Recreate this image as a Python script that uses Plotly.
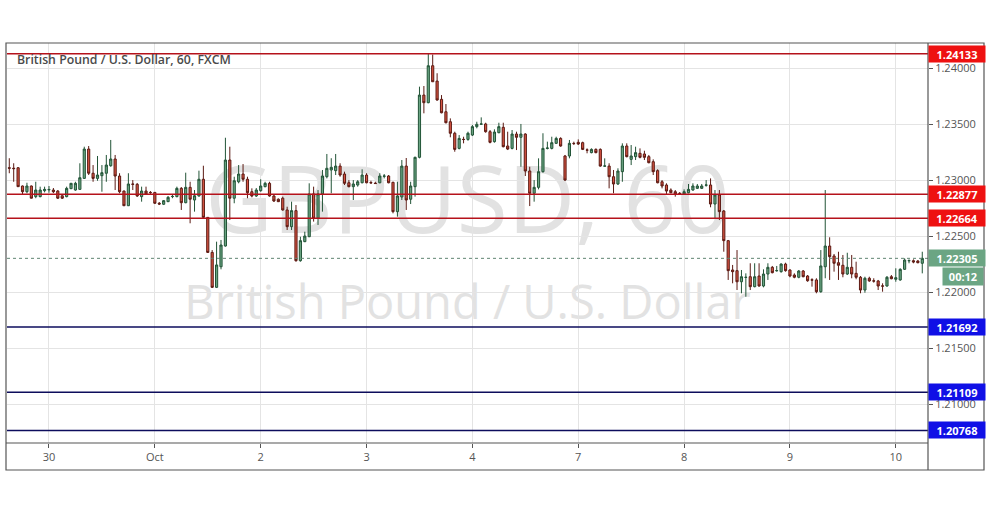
import plotly.graph_objects as go

# ---------------- data (hourly GBP/USD candles) ----------------
idx = list(range(208))

opens = [
    1.23114, 1.23110, 1.23114, 1.22951, 1.22900, 1.22951, 1.22856, 1.22856, 1.22909, 1.22916,
    1.22915, 1.22906, 1.22864, 1.22856, 1.22927, 1.22915, 1.22921, 1.23019, 1.23281, 1.23065,
    1.23019, 1.23043, 1.23065, 1.23132, 1.23192, 1.23040, 1.22906, 1.22775, 1.22969, 1.22966,
    1.22856, 1.22906, 1.22894, 1.22894, 1.22797, 1.22788, 1.22811, 1.22856, 1.22856, 1.22930,
    1.22802, 1.22939, 1.22826, 1.22862, 1.23011, 1.22671, 1.22358, 1.22046, 1.22230, 1.22415,
    1.23183, 1.22842, 1.22989, 1.23058, 1.23011, 1.22900, 1.22862, 1.22909, 1.22945, 1.22975,
    1.22862, 1.22833, 1.22842, 1.22737, 1.22588, 1.22731, 1.22284, 1.22454, 1.22498, 1.22880,
    1.22663, 1.22880, 1.23034, 1.23094, 1.23088, 1.23129, 1.23058, 1.22980, 1.22945, 1.22960,
    1.22980, 1.23049, 1.22982, 1.22976, 1.22980, 1.23038, 1.23040, 1.22984, 1.22722, 1.22853,
    1.23129, 1.22833, 1.22945, 1.23207, 1.23763, 1.23695, 1.24025, 1.23888, 1.23725, 1.23614,
    1.23525, 1.23422, 1.23287, 1.23368, 1.23367, 1.23406, 1.23481, 1.23503, 1.23505, 1.23436,
    1.23347, 1.23427, 1.23475, 1.23308, 1.23287, 1.23415, 1.23386, 1.23415, 1.23085, 1.22886,
    1.22939, 1.23079, 1.23287, 1.23287, 1.23332, 1.23376, 1.23219, 1.23219, 1.23332, 1.23341,
    1.23338, 1.23273, 1.23249, 1.23278, 1.23278, 1.23128, 1.23129, 1.23034, 1.22969, 1.23079,
    1.23308, 1.23189, 1.23213, 1.23243, 1.23237, 1.23213, 1.23168, 1.23088, 1.22989, 1.22960,
    1.22915, 1.22900, 1.22886, 1.22880, 1.22891, 1.22915, 1.22930, 1.22930, 1.22958, 1.22960,
    1.22790, 1.22871, 1.22728, 1.22463, 1.22201, 1.22195, 1.22096, 1.22134, 1.22141, 1.22052,
    1.22147, 1.22058, 1.22165, 1.22225, 1.22194, 1.22186, 1.22254, 1.22201, 1.22156, 1.22136,
    1.22192, 1.22147, 1.22113, 1.22112, 1.22007, 1.22230, 1.22415, 1.22326, 1.22266, 1.22243,
    1.22165, 1.22225, 1.22171, 1.22136, 1.22022, 1.22127, 1.22104, 1.22103, 1.22059, 1.22058,
    1.22141, 1.22118, 1.22112, 1.22207, 1.22283, 1.22284, 1.22281, 1.22261,
]

highs = [
    1.23199, 1.23154, 1.23120, 1.22955, 1.22980, 1.22955, 1.22989, 1.22945, 1.22945, 1.22951,
    1.22933, 1.22915, 1.22868, 1.22945, 1.22978, 1.22989, 1.23154, 1.23302, 1.23308, 1.23138,
    1.23219, 1.23138, 1.23228, 1.23362, 1.23228, 1.23065, 1.22910, 1.23065, 1.23004, 1.22978,
    1.22945, 1.22945, 1.22906, 1.22897, 1.22808, 1.22826, 1.22862, 1.22871, 1.22945, 1.22942,
    1.23070, 1.22989, 1.22915, 1.23088, 1.23132, 1.22674, 1.22379, 1.22454, 1.22469, 1.23382,
    1.23302, 1.23034, 1.23138, 1.23147, 1.23034, 1.22930, 1.22933, 1.23011, 1.22989, 1.22989,
    1.22871, 1.22840, 1.22856, 1.22766, 1.22811, 1.22781, 1.22498, 1.22543, 1.22975, 1.22945,
    1.22915, 1.23094, 1.23237, 1.23199, 1.23237, 1.23154, 1.23079, 1.23004, 1.23004, 1.23004,
    1.23100, 1.23065, 1.22998, 1.22989, 1.23065, 1.23058, 1.23049, 1.22989, 1.22989, 1.23183,
    1.23201, 1.22989, 1.23213, 1.23838, 1.23844, 1.24130, 1.24125, 1.23958, 1.23763, 1.23683,
    1.23555, 1.23436, 1.23406, 1.23391, 1.23436, 1.23496, 1.23525, 1.23564, 1.23516, 1.23451,
    1.23457, 1.23516, 1.23516, 1.23436, 1.23451, 1.23436, 1.23505, 1.23422, 1.23123, 1.23004,
    1.23198, 1.23422, 1.23347, 1.23391, 1.23391, 1.23386, 1.23228, 1.23362, 1.23347, 1.23367,
    1.23347, 1.23287, 1.23287, 1.23287, 1.23287, 1.23198, 1.23154, 1.23094, 1.23109, 1.23332,
    1.23332, 1.23317, 1.23302, 1.23287, 1.23266, 1.23228, 1.23189, 1.23100, 1.23004, 1.22975,
    1.22930, 1.22915, 1.22897, 1.22921, 1.22969, 1.22975, 1.22969, 1.22969, 1.23004, 1.23019,
    1.22915, 1.22915, 1.22737, 1.22469, 1.22246, 1.22379, 1.22201, 1.22171, 1.22261, 1.22261,
    1.22261, 1.22207, 1.22261, 1.22237, 1.22237, 1.22261, 1.22266, 1.22207, 1.22171, 1.22201,
    1.22201, 1.22156, 1.22127, 1.22127, 1.22379, 1.22915, 1.22493, 1.22344, 1.22364, 1.22335,
    1.22355, 1.22335, 1.22275, 1.22147, 1.22141, 1.22141, 1.22127, 1.22112, 1.22082, 1.22147,
    1.22156, 1.22216, 1.22216, 1.22305, 1.22296, 1.22296, 1.22290, 1.22364,
]

lows = [
    1.23065, 1.22989, 1.22942, 1.22877, 1.22886, 1.22840, 1.22842, 1.22850, 1.22894, 1.22891,
    1.22888, 1.22835, 1.22835, 1.22850, 1.22924, 1.22909, 1.22918, 1.23016, 1.23049, 1.22989,
    1.22998, 1.22900, 1.22989, 1.23123, 1.22915, 1.22886, 1.22772, 1.22772, 1.22915, 1.22853,
    1.22811, 1.22871, 1.22880, 1.22790, 1.22781, 1.22781, 1.22808, 1.22842, 1.22850, 1.22737,
    1.22797, 1.22618, 1.22722, 1.22856, 1.22663, 1.22353, 1.22040, 1.22040, 1.22207, 1.22410,
    1.22647, 1.22797, 1.22975, 1.22989, 1.22842, 1.22850, 1.22853, 1.22900, 1.22939, 1.22856,
    1.22808, 1.22808, 1.22731, 1.22558, 1.22558, 1.22275, 1.22275, 1.22450, 1.22495, 1.22633,
    1.22603, 1.22722, 1.23019, 1.22886, 1.23049, 1.23034, 1.22960, 1.22939, 1.22826, 1.22945,
    1.22975, 1.22975, 1.22975, 1.22969, 1.22975, 1.23019, 1.22975, 1.22707, 1.22677, 1.22826,
    1.22737, 1.22790, 1.22856, 1.23198, 1.23600, 1.23690, 1.23880, 1.23713, 1.23600, 1.23510,
    1.23386, 1.23257, 1.23278, 1.23332, 1.23355, 1.23397, 1.23466, 1.23496, 1.23427, 1.23332,
    1.23338, 1.23422, 1.23296, 1.23272, 1.23278, 1.23272, 1.23123, 1.23040, 1.22772, 1.22811,
    1.22921, 1.23070, 1.23278, 1.23278, 1.23326, 1.23302, 1.22996, 1.23198, 1.23317, 1.23317,
    1.23272, 1.23243, 1.23243, 1.23243, 1.23123, 1.23123, 1.22930, 1.22886, 1.22960, 1.22989,
    1.23207, 1.23138, 1.23183, 1.23198, 1.23183, 1.23154, 1.23049, 1.22975, 1.22930, 1.22880,
    1.22886, 1.22856, 1.22871, 1.22871, 1.22886, 1.22909, 1.22924, 1.22924, 1.22945, 1.22761,
    1.22663, 1.22647, 1.22364, 1.22112, 1.22082, 1.22022, 1.21993, 1.21962, 1.22022, 1.22046,
    1.22052, 1.22046, 1.22112, 1.22171, 1.22186, 1.22177, 1.22186, 1.22136, 1.22127, 1.22127,
    1.22136, 1.22096, 1.22052, 1.21993, 1.21998, 1.22127, 1.22112, 1.22186, 1.22112, 1.22136,
    1.22156, 1.22127, 1.22118, 1.21993, 1.21998, 1.22096, 1.22088, 1.22022, 1.22007, 1.22052,
    1.22118, 1.22096, 1.22105, 1.22201, 1.22261, 1.22261, 1.22261, 1.22171,
]

closes = [
    1.23110, 1.23106, 1.22945, 1.22900, 1.22951, 1.22842, 1.22915, 1.22915, 1.22921, 1.22920,
    1.22900, 1.22842, 1.22842, 1.22930, 1.22975, 1.22975, 1.23025, 1.23281, 1.23065, 1.23019,
    1.23049, 1.23070, 1.23138, 1.23192, 1.23040, 1.22900, 1.22775, 1.22969, 1.22966, 1.22862,
    1.22906, 1.22880, 1.22892, 1.22797, 1.22790, 1.22820, 1.22850, 1.22858, 1.22930, 1.22802,
    1.22939, 1.22833, 1.22864, 1.23011, 1.22671, 1.22358, 1.22046, 1.22246, 1.22424, 1.23183,
    1.22842, 1.22998, 1.23058, 1.23011, 1.22891, 1.22862, 1.22915, 1.22951, 1.22975, 1.22862,
    1.22817, 1.22811, 1.22737, 1.22588, 1.22731, 1.22284, 1.22463, 1.22504, 1.22880, 1.22663,
    1.22880, 1.23040, 1.23109, 1.23118, 1.23129, 1.23049, 1.22975, 1.22945, 1.22969, 1.22989,
    1.23049, 1.22980, 1.22978, 1.22973, 1.23040, 1.23040, 1.22980, 1.22722, 1.22862, 1.23129,
    1.22826, 1.22951, 1.23207, 1.23763, 1.23695, 1.24025, 1.23882, 1.23719, 1.23605, 1.23516,
    1.23422, 1.23278, 1.23376, 1.23366, 1.23422, 1.23481, 1.23502, 1.23505, 1.23436, 1.23341,
    1.23433, 1.23481, 1.23302, 1.23281, 1.23415, 1.23386, 1.23415, 1.23085, 1.22886, 1.22939,
    1.23079, 1.23287, 1.23290, 1.23338, 1.23376, 1.23308, 1.23004, 1.23332, 1.23330, 1.23326,
    1.23278, 1.23271, 1.23278, 1.23249, 1.23129, 1.23130, 1.23034, 1.22969, 1.23085, 1.23308,
    1.23213, 1.23219, 1.23249, 1.23207, 1.23207, 1.23159, 1.23079, 1.22980, 1.22951, 1.22906,
    1.22891, 1.22880, 1.22884, 1.22900, 1.22921, 1.22951, 1.22951, 1.22951, 1.22960, 1.22790,
    1.22871, 1.22722, 1.22463, 1.22195, 1.22186, 1.22096, 1.22141, 1.22136, 1.22052, 1.22141,
    1.22058, 1.22165, 1.22225, 1.22177, 1.22196, 1.22254, 1.22195, 1.22147, 1.22136, 1.22192,
    1.22141, 1.22105, 1.22111, 1.22007, 1.22237, 1.22415, 1.22320, 1.22261, 1.22243, 1.22165,
    1.22225, 1.22165, 1.22136, 1.22022, 1.22127, 1.22103, 1.22102, 1.22058, 1.22057, 1.22136,
    1.22123, 1.22132, 1.22207, 1.22290, 1.22285, 1.22272, 1.22266, 1.22305,
]

day_pos = [9, 33, 57, 81, 105, 129, 153, 177, 201]
day_labels = ["30", "Oct", "2", "3", "4", "7", "8", "9", "10"]

price_ticks = [1.21, 1.215, 1.22, 1.225, 1.23, 1.235, 1.24]

resistance_levels = [1.24133, 1.22877, 1.22664]
support_levels = [1.21692, 1.21109, 1.20768]
last_price = 1.22305
countdown = "00:12"

title_text = "British Pound / U.S. Dollar, 60, FXCM"
watermark_main = "GBPUSD, 60"
watermark_sub = "British Pound / U.S. Dollar"

# ---------------- styling ----------------
UP_FILL, UP_LINE = "#6ba583", "#225437"
DN_FILL, DN_LINE = "#d75442", "#5b1a13"
RES_LINE, RES_BOX = "#b5121b", "#ee1111"
SUP_LINE, SUP_BOX = "#0d0d5c", "#1010e6"
FRAME = "#555555"
GRID = "#e4e4e4"

W, H = 991, 507
L, R, T, B = 7, 63, 43, 64
plot_w = W - L - R
plot_h = H - T - B


def px_x(px):
    return (px - L) / plot_w


def px_y(py):
    return (H - B - py) / plot_h


fig = go.Figure()
fig.add_trace(go.Candlestick(
    x=idx, open=opens, high=highs, low=lows, close=closes,
    increasing=dict(fillcolor=UP_FILL, line=dict(color=UP_LINE, width=1)),
    decreasing=dict(fillcolor=DN_FILL, line=dict(color=DN_LINE, width=1)),
    whiskerwidth=0, hoverinfo="skip", showlegend=False,
))

shapes = []
# watermark (behind everything)
shapes.append(dict(type="rect", xref="paper", yref="paper", x0=0, x1=1, y0=0.52, y1=0.68,
                   line=dict(width=0), fillcolor="rgba(0,0,0,0)", layer="below",
                   label=dict(text=watermark_main, textposition="middle center",
                              font=dict(family="Open Sans", size=93, color="#e2e2e2"))))
shapes.append(dict(type="rect", xref="paper", yref="paper", x0=0, x1=1, y0=0.2875, y1=0.4075,
                   line=dict(width=0), fillcolor="rgba(0,0,0,0)", layer="below",
                   label=dict(text=watermark_sub, textposition="middle center",
                              font=dict(family="Open Sans", size=47, color="#e2e2e2"))))
# level lines
for v in resistance_levels:
    shapes.append(dict(type="line", xref="paper", yref="y", x0=0, x1=1, y0=v, y1=v,
                       line=dict(color=RES_LINE, width=1.5)))
for v in support_levels:
    shapes.append(dict(type="line", xref="paper", yref="y", x0=0, x1=1, y0=v, y1=v,
                       line=dict(color=SUP_LINE, width=1.5)))
shapes.append(dict(type="line", xref="paper", yref="y", x0=0, x1=1, y0=last_price, y1=last_price,
                   line=dict(color="#5f8572", width=1, dash="dot")))
# frame
fx0, fx1 = px_x(6), px_x(984)
fy0 = px_y(470)
shapes.append(dict(type="rect", xref="paper", yref="paper", x0=fx0, x1=fx1, y0=fy0, y1=1,
                   line=dict(color=FRAME, width=1.2), fillcolor="rgba(0,0,0,0)"))
shapes.append(dict(type="line", xref="paper", yref="paper", x0=1, x1=1, y0=fy0, y1=1,
                   line=dict(color=FRAME, width=1.2)))
shapes.append(dict(type="line", xref="paper", yref="paper", x0=fx0, x1=1, y0=0, y1=0,
                   line=dict(color=FRAME, width=1.2)))

annotations = []
annotations.append(dict(text=title_text, xref="paper", yref="paper", x=px_x(15), y=px_y(60),
                        xanchor="left", yanchor="middle", showarrow=False,
                        font=dict(family="Open Sans", size=12.3, color="#4a4a4a", weight=600)))


def price_box(v, color):
    return dict(text=f"{v:.5f}", xref="paper", yref="y", x=1, y=v, xanchor="left",
                yanchor="middle", showarrow=False, bgcolor=color, width=52, height=12,
                borderpad=2, align="center",
                font=dict(family="Open Sans", size=11, color="white", weight="bold"))


for v in resistance_levels:
    annotations.append(price_box(v, RES_BOX))
for v in support_levels:
    annotations.append(price_box(v, SUP_BOX))
annotations.append(price_box(last_price, UP_FILL))
annotations.append(dict(text=countdown, xref="paper", yref="y", x=px_x(984), y=last_price,
                        xanchor="right", yanchor="top", yshift=-9, showarrow=False,
                        bgcolor=UP_FILL, width=36, height=13, borderpad=2, align="center",
                        font=dict(family="Open Sans", size=11, color="white", weight="bold")))

fig.update_layout(
    width=W, height=H,
    margin=dict(l=L, r=R, t=T, b=B),
    paper_bgcolor="white", plot_bgcolor="rgba(0,0,0,0)",
    showlegend=False, shapes=shapes, annotations=annotations,
    font=dict(family="Open Sans", color="#555555"),
    boxgap=0.3,
)
fig.update_xaxes(
    type="linear", range=[-0.52, 208.3], rangeslider_visible=False,
    tickmode="array", tickvals=day_pos, ticktext=day_labels,
    showgrid=True, gridcolor=GRID, gridwidth=1, zeroline=False, showline=False,
    ticks="outside", ticklen=4, tickcolor=FRAME,
    tickfont=dict(family="Open Sans", size=11, color="#555555"),
)
fig.update_yaxes(
    side="right", range=[1.20656, 1.24228],
    tickmode="array", tickvals=price_ticks, tickformat=".5f",
    showgrid=True, gridcolor=GRID, gridwidth=1, zeroline=False, showline=False,
    ticks="outside", ticklen=4, tickcolor=FRAME,
    tickfont=dict(family="Open Sans", size=11, color="#555555"),
)

fig.write_html("out.html",
               config={"displayModeBar": False, "staticPlot": True},
               post_script="document.body.style.margin='0';document.body.style.overflow='hidden';")
